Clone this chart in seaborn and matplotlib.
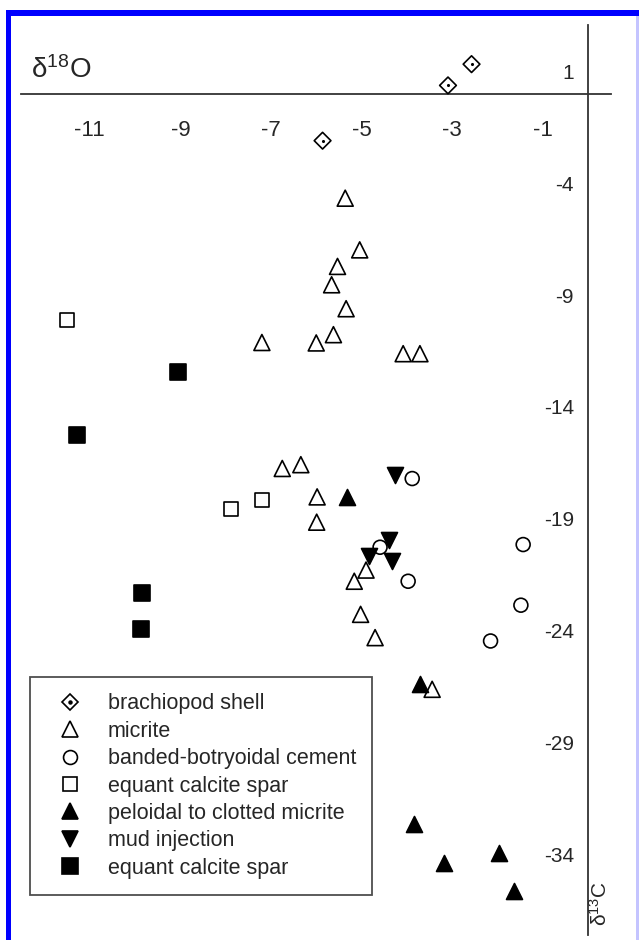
import pandas as pd
import seaborn as sns
import matplotlib.pyplot as plt
from matplotlib.lines import Line2D
from matplotlib.patches import Rectangle

# delta18O (x) / delta13C (y) per component
brach_x = [-2.57, -3.09, -5.86]
brach_y = [1.32, 0.37, -2.10]

micrite_x = [-5.36, -5.04, -5.53, -5.66, -5.34, -7.20, -6.00, -5.62, -4.08, -3.71,
             -6.75, -6.34, -5.98, -5.99, -4.90, -5.16, -5.02, -4.70, -3.44]
micrite_y = [-4.67, -6.98, -7.72, -8.54, -9.61, -11.12, -11.14, -10.77, -11.62, -11.62,
             -16.75, -16.58, -18.02, -19.15, -21.29, -21.79, -23.27, -24.31, -26.62]

cement_x = [-3.88, -4.59, -1.43, -3.97, -1.48, -2.15]
cement_y = [-17.20, -20.27, -20.15, -21.79, -22.86, -24.46]

spar_open_x = [-11.50, -7.20, -7.88]
spar_open_y = [-10.10, -18.14, -18.58]

peloidal_x = [-5.31, -3.71, -3.85, -3.17, -1.96, -1.64]
peloidal_y = [-18.02, -26.37, -32.62, -34.39, -33.94, -35.65]

mud_x = [-4.26, -4.39, -4.84, -4.32]
mud_y = [-17.02, -19.93, -20.64, -20.89]

spar_fill_x = [-9.05, -11.28, -9.84, -9.86]
spar_fill_y = [-12.44, -15.24, -22.30, -23.91]

labels = ['brachiopod shell', 'micrite', 'banded-botryoidal cement', 'equant calcite spar',
          'peloidal to clotted micrite', 'mud injection', 'equant calcite spar']
xs = [brach_x, micrite_x, cement_x, spar_open_x, peloidal_x, mud_x, spar_fill_x]
ys = [brach_y, micrite_y, cement_y, spar_open_y, peloidal_y, mud_y, spar_fill_y]

x_ticks = [-11, -9, -7, -5, -3, -1]
y_ticks = [1, -4, -9, -14, -19, -24, -29, -34]

# marker styles: (marker, size in pt, filled)
styles = [('D', 8.5, False), ('^', 11.5, False), ('o', 10, False), ('s', 10, False),
          ('^', 11.5, True), ('v', 11.5, True), ('s', 11, True)]

df = pd.concat([pd.DataFrame({'d18O': x, 'd13C': y, 'grp': i})
                for i, (x, y) in enumerate(zip(xs, ys))], ignore_index=True)

sns.set_style('white')
plt.rcParams['font.family'] = ['Liberation Sans', 'DejaVu Sans']
plt.rcParams['axes.unicode_minus'] = False
plt.rcParams['mathtext.fontset'] = 'custom'
plt.rcParams['mathtext.rm'] = 'Liberation Sans'
plt.rcParams['mathtext.it'] = 'Liberation Sans'

W, H = 639, 940
fig = plt.figure(figsize=(W / 100, H / 100), dpi=100)
ax = fig.add_axes([21 / W, 5 / H, 590 / W, 910 / H])

for i, (mk, ms, filled) in enumerate(styles):
    sub = df[df['grp'] == i]
    sns.scatterplot(data=sub, x='d18O', y='d13C', ax=ax, marker=mk, s=ms ** 2,
                    color='black', facecolor='black' if filled else 'none',
                    edgecolor='black', linewidth=1.2, zorder=3, legend=False)
# dot inside the brachiopod diamonds
sns.scatterplot(data=df[df['grp'] == 0], x='d18O', y='d13C', ax=ax, marker='o', s=5,
                color='black', edgecolor='black', linewidth=0, zorder=4, legend=False)

ax.set_xlim(-12.52, 0.51)
ax.set_ylim(-37.6, 3.07)
ax.set_xlabel('')
ax.set_ylabel('')

for side in ['top', 'right']:
    ax.spines[side].set_visible(False)
ax.spines['left'].set_position(('data', 0))
ax.spines['bottom'].set_position(('data', 0))
for side in ['left', 'bottom']:
    ax.spines[side].set_color('#333333')
    ax.spines[side].set_linewidth(1.3)

ax.set_xticks(x_ticks)
ax.set_xticklabels([str(v) for v in x_ticks])
ax.set_yticks(y_ticks)
ax.set_yticklabels([str(v) for v in y_ticks])
ax.tick_params(axis='x', direction='out', length=7, width=1.1, pad=12,
               labelsize=16, color='#333333')
ax.tick_params(axis='y', direction='out', length=6, width=1.1, pad=4,
               labelsize=15, color='#333333')

ax.text(-12.3, 1.06, 'δ$^{18}$O', fontsize=20, ha='left', va='center')
ax.text(0.27, -36.2, 'δ$^{13}$C', fontsize=15, rotation=90, ha='center', va='center')

handles = []
for mk, ms, filled in styles:
    h = Line2D([], [], ls='none', marker=mk, ms=ms, mec='black', mew=1.2,
               mfc='black' if filled else 'none')
    handles.append(h)
handles[0] = (handles[0], Line2D([], [], ls='none', marker='o', ms=2.2, mfc='black', mec='black'))

leg = ax.legend(handles, labels, loc='upper left', bbox_to_anchor=(9 / 590, 1 - 652 / 910),
                frameon=True, fancybox=False, edgecolor='#222222', fontsize=15.5,
                labelspacing=0.3, handlelength=2.2, handletextpad=0.65, borderpad=0.75,
                borderaxespad=0)
leg.get_frame().set_linewidth(1.3)

# blue frame round the figure
fig.add_artist(Rectangle((6 / W, 1 - 16 / H), 1 - 6 / W, 6 / H, transform=fig.transFigure,
                         color='#0000ff', lw=0))
fig.add_artist(Rectangle((6 / W, 0), 5 / W, 1 - 10 / H, transform=fig.transFigure,
                         color='#0000ff', lw=0))
fig.add_artist(Rectangle((636 / W, 0), 3 / W, 1 - 16 / H, transform=fig.transFigure,
                         color='#c4c4ff', lw=0))

fig.savefig('out.png', dpi=100)
